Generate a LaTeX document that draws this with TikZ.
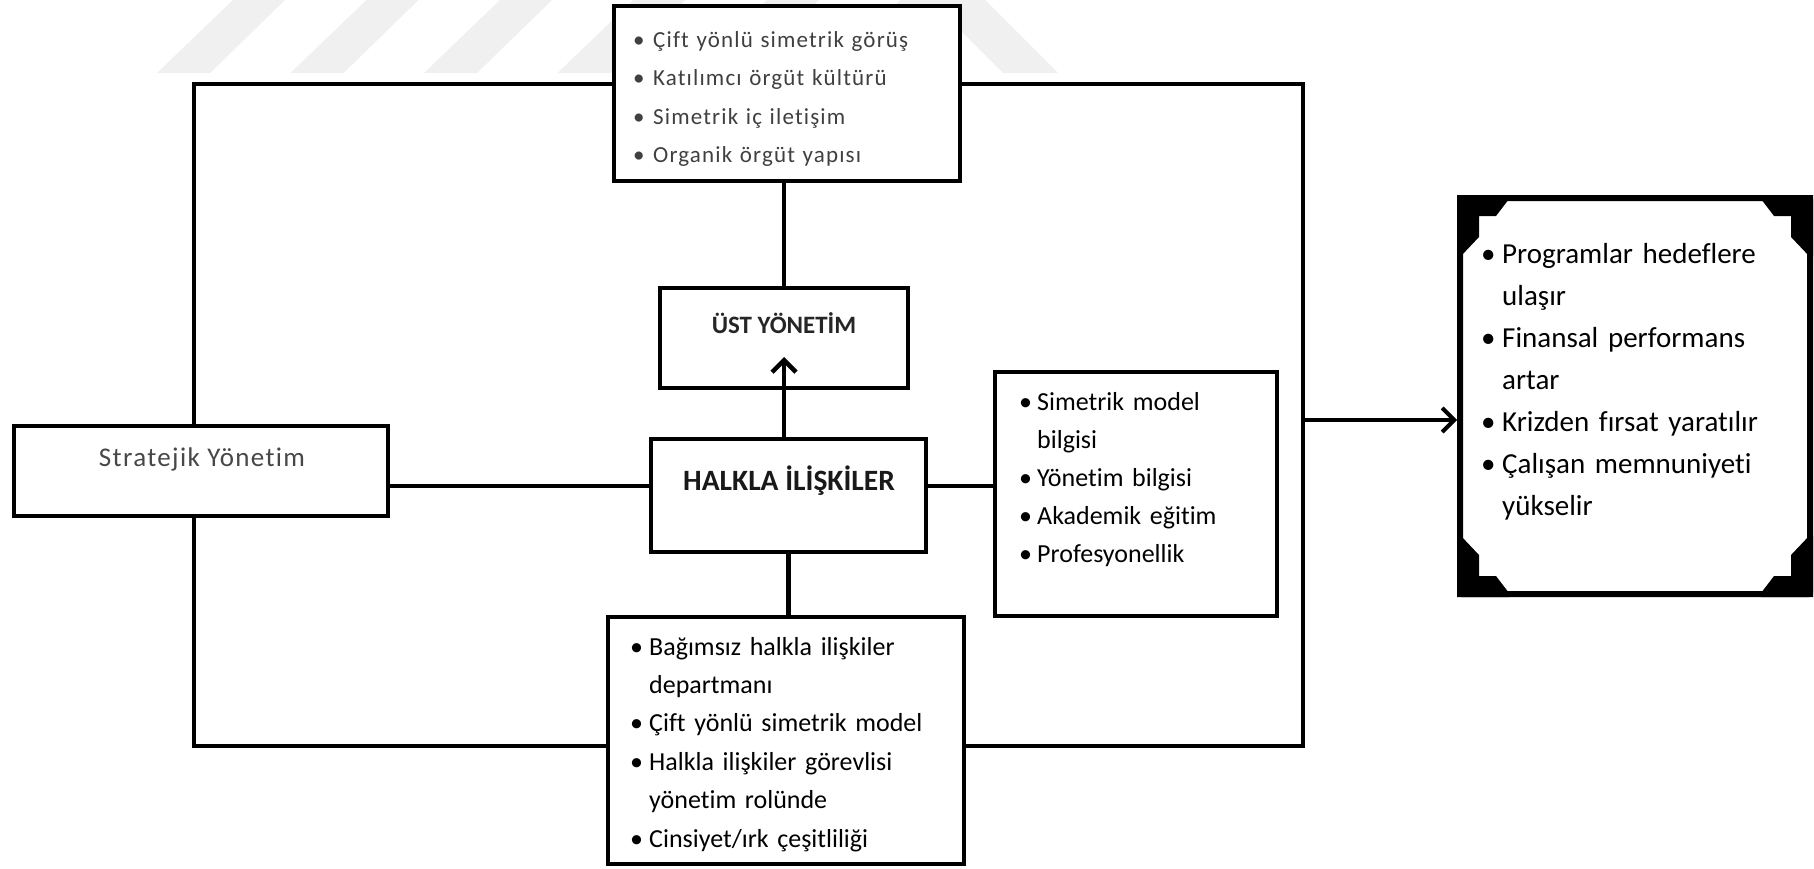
\documentclass[tikz,border=0pt]{standalone}
\usepackage{fontspec}
\setmainfont{Carlito}[Ligatures=NoCommon]
\usetikzlibrary{arrows.meta}
\newcommand{\mybul}[1]{\makebox[#1][l]{\textbullet}}
\newcommand{\myind}[1]{\hspace*{#1}}
\begin{document}
\begin{tikzpicture}[x=1pt,y=-1pt,
  box/.style={draw=black,line width=4.5pt,fill=white,inner sep=0pt},
  conn/.style={line width=4.5pt},
  arr/.style={line width=4.5pt,-{Straight Barb[length=12pt,width=24pt]}},
  listtext/.style={anchor=base west,inner sep=0pt,align=left,text width=#1},
  wm/.style={fill=black!6,draw=none}
]
\useasboundingbox (0,0) rectangle (1814,868);
\fill[white] (0,0) rectangle (1814,868);

% watermark stripes
\foreach \k in {0,...,5}{
  \fill[wm] ({157+133.5*\k},73) -- ({210+133.5*\k},73) -- ({285+133.5*\k},0) -- ({233+133.5*\k},0) -- cycle;
}
\fill[wm] (930,0) -- (985,0) -- (1058,73) -- (1003,73) -- cycle;

% corner coordinates of the outer frame
\coordinate (tl) at (194,84);
\coordinate (tr) at (1303,84);
\coordinate (bl) at (194,746);
\coordinate (br) at (1303,746);
\coordinate (mid) at (0,486);
\coordinate (uarr) at (784,357);
\coordinate (rarr) at (1303,420);

% boxes
\node[box,minimum width=346pt,minimum height=175pt] (T) at (787,93.5) {};
\node[box,minimum width=248pt,minimum height=100pt] (U) at (784,338) {};
\node[box,minimum width=275pt,minimum height=113pt] (H) at (788.5,495.5) {};
\node[box,minimum width=374pt,minimum height=90pt] (S) at (201,471) {};
\node[box,minimum width=282pt,minimum height=244pt] (M) at (1136,494) {};
\node[box,minimum width=356pt,minimum height=247pt] (B) at (786,740.5) {};
\node[draw=black,line width=6pt,fill=white,rounded corners=2pt,minimum width=350pt,minimum height=396pt,inner sep=0pt] (R) at (1635,396) {};

% notched corners of the result box
\foreach \cx/\cy/\sx/\sy in {1457/195/1/1,1813/195/-1/1,1457/597/1/-1,1813/597/-1/-1}{
  \fill[black] (\cx,\cy) -- ++({52*\sx},0) -- ++(0,{4*\sy}) -- ++({-13*\sx},{17*\sy}) -- ++({-17*\sx},0) -- ++(0,{21*\sy}) -- ++({-18*\sx},{19*\sy}) -- ++({-4*\sx},0) -- cycle;
}

% connectors
\draw[conn] (tl |- S.north) -- (tl) -- (tl -| T.west);
\draw[conn] (T.east |- tr) -- (tr) -- (br) -- (br -| B.east);
\draw[conn] (bl |- S.south) -- (bl) -- (bl -| B.west);
\draw[conn] (T.south -| U.north) -- (U.north);
\draw[arr] (H.north -| uarr) -- (uarr);
\draw[conn] (S.east |- mid) -- (H.west |- mid);
\draw[conn] (H.east |- mid) -- (M.west |- mid);
\draw[conn] (H.south) -- (H.south |- B.north);
\draw[arr,line width=4pt] (rarr) -- (R.west |- rarr);

% labels
\node[font=\fontsize{27}{30}\selectfont\addfontfeature{LetterSpace=5},text=black!72,anchor=base,inner sep=0pt] (st) at (202,466) {Stratejik Yönetim};
\node[font=\bfseries\fontsize{25}{28}\selectfont,text=black!85,anchor=base,inner sep=0pt] (ut) at (784,333) {ÜST YÖNETİM};
\node[font=\bfseries\fontsize{29.5}{34}\selectfont,text=black!90,anchor=base,inner sep=0pt] (ht) at (789,490) {HALKLA İLİŞKİLER};

\node[listtext=330pt,font=\fontsize{23}{38.5}\selectfont\addfontfeature{LetterSpace=5},text=black!75] (tlist) at (633,47)
  {\mybul{20pt}Çift yönlü simetrik görüş\\
   \mybul{20pt}Katılımcı örgüt kültürü\\
   \mybul{20pt}Simetrik iç iletişim\\
   \mybul{20pt}Organik örgüt yapısı};

\node[listtext=260pt,font=\fontsize{26}{38}\selectfont] (mlist) at (1019,410)
  {\mybul{18pt}Simetrik model\\
   \myind{18pt}bilgisi\\
   \mybul{18pt}Yönetim bilgisi\\
   \mybul{18pt}Akademik eğitim\\
   \mybul{18pt}Profesyonellik};

\node[listtext=330pt,font=\fontsize{26}{38.4}\selectfont] (blist) at (630,655)
  {\mybul{19pt}Bağımsız halkla ilişkiler\\
   \myind{19pt}departmanı\\
   \mybul{19pt}Çift yönlü simetrik model\\
   \mybul{19pt}Halkla ilişkiler görevlisi\\
   \myind{19pt}yönetim rolünde\\
   \mybul{19pt}Cinsiyet/ırk çeşitliliği};

\node[listtext=320pt,font=\fontsize{29}{42}\selectfont] (rlist) at (1481,263)
  {\mybul{21pt}Programlar hedeflere\\
   \myind{21pt}ulaşır\\
   \mybul{21pt}Finansal performans\\
   \myind{21pt}artar\\
   \mybul{21pt}Krizden fırsat yaratılır\\
   \mybul{21pt}Çalışan memnuniyeti\\
   \myind{21pt}yükselir};
\end{tikzpicture}
\end{document}
